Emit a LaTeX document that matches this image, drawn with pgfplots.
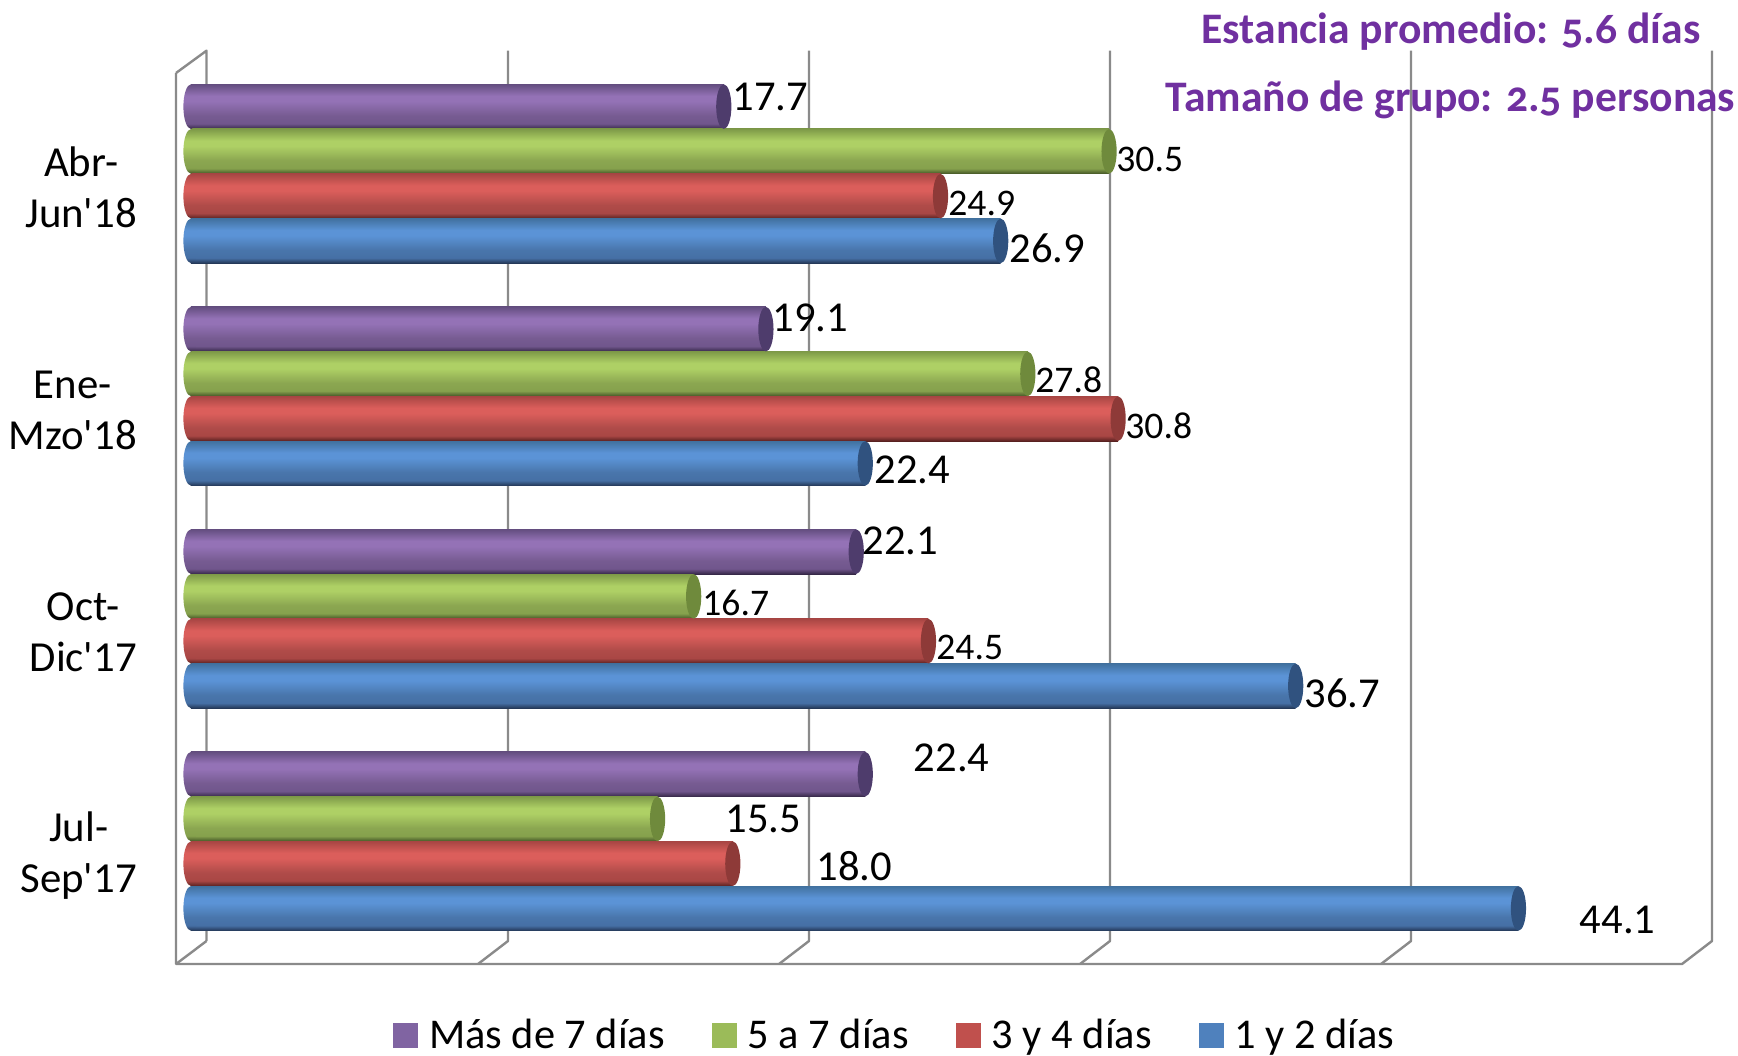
\documentclass[border=0pt]{standalone}
\usepackage{fontspec}
\usepackage{pgfplots}
\pgfplotsset{compat=1.18}
\setmainfont{Carlito}
\newfontfamily\cat{Carlito}
\newfontfamily\oldnum[Numbers=OldStyle]{Carlito}

\definecolor{wall}{HTML}{8A8A8A}
\definecolor{titlepurple}{HTML}{7030A0}
\definecolor{legpurple}{HTML}{8064A2}
\definecolor{leggreen}{HTML}{9BBB59}
\definecolor{legred}{HTML}{C0504D}
\definecolor{legblue}{HTML}{4F81BD}
\definecolor{cappurple}{HTML}{4E3C6C}
\definecolor{capgreen}{HTML}{6F8A3C}
\definecolor{capred}{HTML}{8E3A38}
\definecolor{capblue}{HTML}{30527F}

% cylinder look: 25bp is the bottom of the bar, 75bp the top
\newcommand\cylshade[4]{%
  \pgfdeclareverticalshading{#1}{100bp}{%
    color(0bp)=(#4); color(25bp)=(#4); color(31bp)=(#3!62!#4);
    color(40bp)=(#3!80!black); color(56bp)=(#3); color(62bp)=(#3);
    color(75bp)=(#2); color(100bp)=(#2)}%
  \pgfdeclareplotmark{l#1}{%
    \pgfpathellipse{\pgfpointorigin}{\pgfqpoint{3.8pt}{0pt}}{\pgfqpoint{0pt}{11.15pt}}%
    \pgfshadepath{#1}{0}\pgfusepath{discard}}%
}
\definecolor{pt}{HTML}{644E80}\definecolor{pm}{HTML}{9472B6}\definecolor{pb}{HTML}{362848}
\definecolor{gt}{HTML}{7E9A48}\definecolor{gm}{HTML}{AED065}\definecolor{gb}{HTML}{445526}
\definecolor{rt}{HTML}{A84644}\definecolor{rm}{HTML}{DB5E5B}\definecolor{rb}{HTML}{582120}
\definecolor{bt}{HTML}{41719F}\definecolor{bm}{HTML}{5B93D6}\definecolor{bb}{HTML}{233655}
\cylshade{cylpurple}{pt}{pm}{pb}
\cylshade{cylgreen}{gt}{gm}{gb}
\cylshade{cylred}{rt}{rm}{rb}
\cylshade{cylblue}{bt}{bm}{bb}
\pgfdeclareplotmark{rcap}{%
  \pgfpathellipse{\pgfpointorigin}{\pgfqpoint{3.8pt}{0pt}}{\pgfqpoint{0pt}{11.15pt}}%
  \pgfusepathqfill}

% one cylinder: series, value, y position. Each bar is its own plot so its shading stays its own
\newcommand\cyl[3]{%
  \addplot[forget plot,xbar,bar width=22.375pt,bar shift=0pt,draw=none,shade,shading=cyl#1]
    coordinates {(#2,#3)};
  \addplot[forget plot,only marks,mark=lcyl#1] coordinates {(0,#3)};
  \addplot[forget plot,only marks,mark=rcap,mark options={fill=cap#1},color=cap#1]
    coordinates {(#2,#3)};
}
\newcommand\legsq[2]{%
  \addlegendimage{legend image code/.code={\fill[leg#1] (0pt,-6pt) rectangle (12pt,6pt);}}
  \addlegendentry{#2}
}

\newcommand\lbl[3]{\node[anchor=west,inner sep=0pt,font=\cat\fontsize{21.3}{25}\selectfont] at (#1,#2) {#3};}
\newcommand\sml[3]{\node[anchor=west,inner sep=0pt,font=\cat\fontsize{18.8}{22}\selectfont] at (#1,#2) {#3};}

\begin{document}
\begin{tikzpicture}
\path[use as bounding box] (0,0) rectangle (869pt,-527.5pt);
% chart walls, in reference pixels
\begin{scope}[x=0.5pt,y=-0.5pt,wall,line width=1.2pt,line join=round]
\draw (176,73) -- (206.5,50.7) -- (206.5,941);
\draw (176,73) -- (176,964) -- (1682,964) -- (1712,941) -- (1712,50.7);
\draw (176,964) -- (206.5,941);
\foreach \g in {508,809,1110,1411}
  \draw (\g,50.7) -- (\g,941) -- (\g-30,964);
\end{scope}

\begin{axis}[
    at={(88pt,-482pt)}, anchor=south west,
    scale only axis, width=768pt, height=456.65pt,
    xmin=-0.498, xmax=50.53,
    ymin=-0.5515, ymax=3.553,
    clip=false,
    axis line style={draw=none},
    tick style={draw=none},
    xtick=\empty,
    ytick={0,1,2,3},
    yticklabels={{Jul-\\Sep'17},{Oct-\\Dic'17},{Ene-\\Mzo'18},{Abr-\\Jun'18}},
    yticklabel style={align=center,inner sep=0pt,xshift=-19.4pt,yshift=-6.9pt,
      font=\cat\fontsize{21.4}{25.5}\selectfont},
    legend columns=-1,
    legend style={at={(0.1413,-0.0558)},anchor=north west,draw=none,fill=none,
      inner sep=0pt,font=\cat\fontsize{21.2}{25}\selectfont,
      /tikz/every even column/.style={column sep=21.6pt},
      /tikz/every odd column/.style={column sep=3.5pt}},
]
\legsq{purple}{Más de 7 días}
\legsq{green}{5 a 7 días}
\legsq{red}{3 y 4 días}
\legsq{blue}{1 y 2 días}

% Jul-Sep'17
\cyl{purple}{22.4}{0.3017}
\cyl{green}{15.5}{0.1006}
\cyl{red}{18.0}{-0.1006}
\cyl{blue}{44.1}{-0.3017}
% Oct-Dic'17
\cyl{purple}{22.1}{1.3017}
\cyl{green}{16.7}{1.1006}
\cyl{red}{24.5}{0.8994}
\cyl{blue}{36.7}{0.6983}
% Ene-Mzo'18
\cyl{purple}{19.1}{2.3017}
\cyl{green}{27.8}{2.1006}
\cyl{red}{30.8}{1.8994}
\cyl{blue}{22.4}{1.6983}
% Abr-Jun'18
\cyl{purple}{17.7}{3.3017}
\cyl{green}{30.5}{3.1006}
\cyl{red}{24.9}{2.8994}
\cyl{blue}{26.9}{2.6983}
\end{axis}

\begin{scope}[x=0.5pt,y=-0.5pt]
\lbl{732}{97}{17.7}
\sml{1116}{159}{30.5}
\sml{948}{203}{24.9}
\lbl{1009}{248}{26.9}
\lbl{772}{318}{19.1}
\sml{1035}{380}{27.8}
\sml{1125}{426}{30.8}
\lbl{874}{470}{22.4}
\lbl{862}{541}{22.1}
\sml{702}{603}{16.7}
\sml{936}{647}{24.5}
\lbl{1304}{693}{36.7}
\lbl{913.5}{758}{22.4}
\lbl{725}{819}{15.5}
\lbl{816}{866}{18.0}
\lbl{1579.5}{920}{44.1}
\node[titlepurple,inner sep=0pt,font=\oldnum\bfseries\fontsize{21.8}{26}\selectfont] at (1451,32) {Estancia promedio: 5.6 días};
\node[titlepurple,inner sep=0pt,font=\oldnum\bfseries\fontsize{21.8}{26}\selectfont] at (1450.5,100) {Tamaño de grupo: 2.5 personas};
\end{scope}
\end{tikzpicture}
\end{document}
